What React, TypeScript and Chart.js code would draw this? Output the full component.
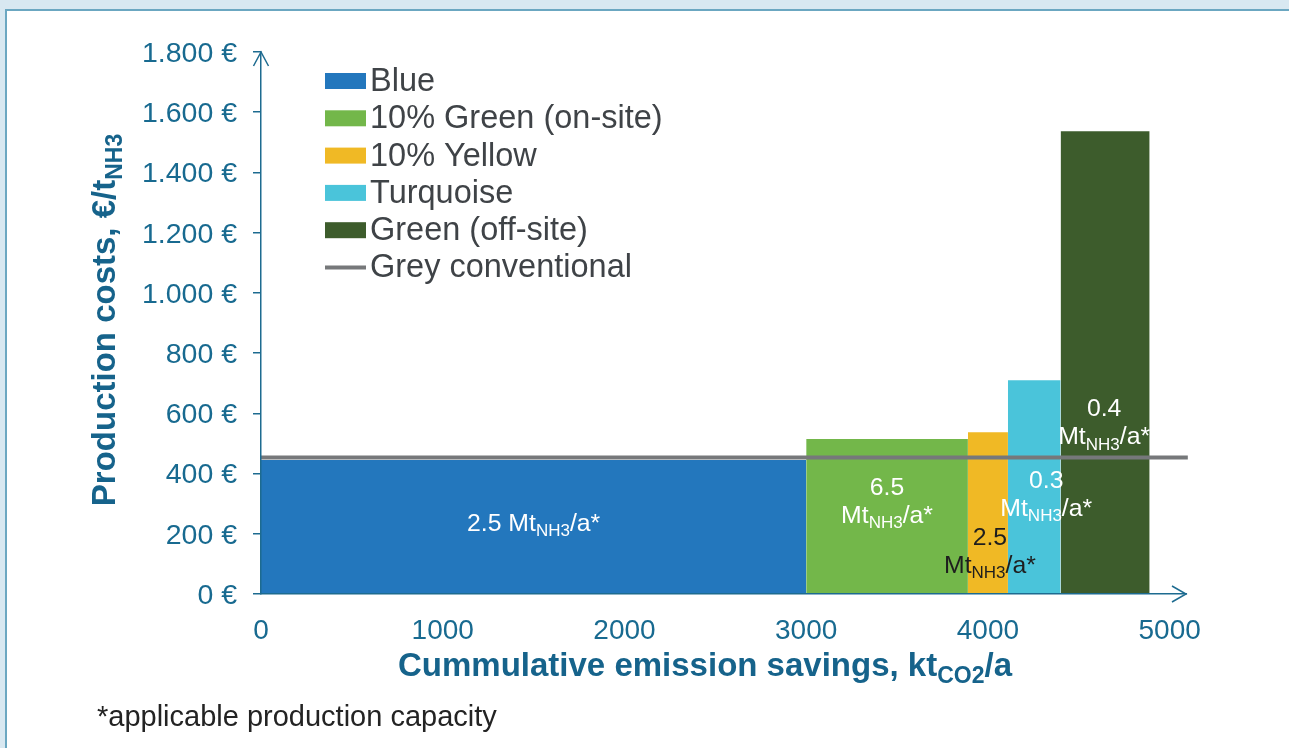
import { useEffect, useRef } from "react";
import { Chart, registerables } from "chart.js";

Chart.register(...registerables);

// Production pathways, in cost-curve order
const categories = ["Blue", "10% Green (on-site)", "10% Yellow", "Turquoise", "Green (off-site)"];
// Cumulative emission savings (kt CO2/a) at the block edges
const savingsEdges = [0, 3000, 3890, 4110, 4400, 4890];
// Production costs (€/t NH3) per pathway
const costs = [445, 515, 537, 710, 1537];
// Applicable production capacity (Mt NH3/a) per pathway
const capacities = ["2.5", "6.5", "2.5", "0.3", "0.4"];
// Reference line for conventional grey ammonia
const greyName = "Grey conventional";
const greyCost = 453;
const greySpan = [0, 5100];
// Axis ticks
const xTickValues = [0, 1000, 2000, 3000, 4000, 5000];
const yTickValues = [0, 200, 400, 600, 800, 1000, 1200, 1400, 1600, 1800];

// Styling
const FONT = "'Liberation Sans', Arial, sans-serif";
const AXIS = "#1d6b90";
const TICK_TEXT = "#186a90";
const TITLE = "#16638b";
const LEGEND_TEXT = "#3f4347";
const fills = ["#2377bd", "#73b74a", "#f0b925", "#4ac4da", "#3d5c2c"];
const greyColor = "#76787a";
const labelColors = ["#ffffff", "#ffffff", "#1e1e1e", "#ffffff", "#ffffff"];
// Label layout: vertical anchor (cost units), horizontal nudge (px), single line or not
const labelLayout = [
  { y: 239, dx: 0, oneLine: true },
  { y: 359, dx: 0, oneLine: false },
  { y: 193, dx: 2, oneLine: false },
  { y: 382, dx: 12, oneLine: false },
  { y: 620, dx: -1, oneLine: false },
];

type Part = { t: string; sub?: boolean };

function drawRich(
  ctx: CanvasRenderingContext2D,
  parts: Part[],
  x: number,
  y: number,
  size: number,
  weight: string,
  align: "left" | "center"
) {
  const subSize = Math.round(size * 0.7);
  const fontFor = (p: Part) => `${weight} ${p.sub ? subSize : size}px ${FONT}`;
  let total = 0;
  const widths = parts.map((p) => {
    ctx.font = fontFor(p);
    const w = ctx.measureText(p.t).width;
    total += w;
    return w;
  });
  let cx = align === "center" ? x - total / 2 : x;
  ctx.textAlign = "left";
  ctx.textBaseline = "alphabetic";
  parts.forEach((p, i) => {
    ctx.font = fontFor(p);
    ctx.fillText(p.t, cx, y + (p.sub ? size * 0.22 : 0));
    cx += widths[i];
  });
}

function formatEuro(v: number): string {
  const s = v >= 1000 ? `${Math.floor(v / 1000)}.${String(v % 1000).padStart(3, "0")}` : String(v);
  return `${s} €`;
}

const decorations = {
  id: "decorations",
  afterDraw(chart: any) {
    const ctx: CanvasRenderingContext2D = chart.ctx;
    const xs = chart.scales.x;
    const ys = chart.scales.y;
    const area = chart.chartArea;
    ctx.save();

    // axis arrow heads
    ctx.strokeStyle = AXIS;
    ctx.lineWidth = 1.5;
    ctx.beginPath();
    ctx.moveTo(area.left - 7.5, area.top + 14);
    ctx.lineTo(area.left, area.top);
    ctx.lineTo(area.left + 7.5, area.top + 14);
    ctx.stroke();
    ctx.beginPath();
    ctx.moveTo(area.right - 14, area.bottom - 8);
    ctx.lineTo(area.right, area.bottom);
    ctx.lineTo(area.right - 14, area.bottom + 8);
    ctx.stroke();

    // capacity labels inside the blocks
    const labelSize = 24.8;
    categories.forEach((_, i) => {
      const lay = labelLayout[i];
      const cx = xs.getPixelForValue((savingsEdges[i] + savingsEdges[i + 1]) / 2) + lay.dx;
      const cy = ys.getPixelForValue(lay.y);
      ctx.fillStyle = labelColors[i];
      const unit: Part[] = [{ t: "Mt" }, { t: "NH3", sub: true }, { t: "/a*" }];
      if (lay.oneLine) {
        drawRich(ctx, [{ t: capacities[i] + " Mt" }, { t: "NH3", sub: true }, { t: "/a*" }], cx, cy + 9, labelSize, "normal", "center");
      } else {
        drawRich(ctx, [{ t: capacities[i] }], cx, cy + 9, labelSize, "normal", "center");
        drawRich(ctx, unit, cx, cy + 37, labelSize, "normal", "center");
      }
    });

    // legend
    const items = chart.data.datasets;
    const lx = 325;
    let ly = 81;
    items.forEach((ds: any) => {
      if (ds.isLine) {
        ctx.strokeStyle = ds.borderColor;
        ctx.lineWidth = 4;
        ctx.beginPath();
        ctx.moveTo(lx, ly);
        ctx.lineTo(lx + 41, ly);
        ctx.stroke();
      } else {
        ctx.fillStyle = ds.backgroundColor;
        ctx.fillRect(lx, ly - 8, 41, 16);
      }
      ctx.fillStyle = LEGEND_TEXT;
      ctx.font = `32.5px ${FONT}`;
      ctx.textAlign = "left";
      ctx.textBaseline = "middle";
      ctx.fillText(ds.label, lx + 45, ly + 1);
      ly += 37.3;
    });

    // axis titles
    ctx.fillStyle = TITLE;
    drawRich(
      ctx,
      [{ t: "Cummulative emission savings, kt" }, { t: "CO2", sub: true }, { t: "/a" }],
      705,
      676,
      33,
      "bold",
      "center"
    );
    ctx.save();
    ctx.translate(115, 320);
    ctx.rotate(-Math.PI / 2);
    drawRich(ctx, [{ t: "Production costs, €/t" }, { t: "NH3", sub: true }], 0, 0, 33, "bold", "center");
    ctx.restore();

    // footnote
    ctx.fillStyle = "#232323";
    ctx.font = `29px ${FONT}`;
    ctx.textAlign = "left";
    ctx.textBaseline = "alphabetic";
    ctx.fillText("*applicable production capacity", 97, 726);

    ctx.restore();
  },
};

export default function App() {
  const canvasRef = useRef<HTMLCanvasElement | null>(null);

  useEffect(() => {
    const canvas = canvasRef.current;
    if (!canvas) return;
    Chart.defaults.font.family = FONT;

    const blocks = categories.map((name, i) => ({
      label: name,
      data: [
        { x: savingsEdges[i], y: 0 },
        { x: savingsEdges[i], y: costs[i] },
        { x: savingsEdges[i + 1], y: costs[i] },
        { x: savingsEdges[i + 1], y: 0 },
      ],
      backgroundColor: fills[i],
      borderColor: "rgba(0,0,0,0)",
      borderWidth: 0,
      pointRadius: 0,
      tension: 0,
      fill: "origin",
      order: 2,
    }));

    const grey = {
      label: greyName,
      isLine: true,
      data: [
        { x: greySpan[0], y: greyCost },
        { x: greySpan[1], y: greyCost },
      ],
      borderColor: greyColor,
      backgroundColor: greyColor,
      borderWidth: 4,
      pointRadius: 0,
      fill: false,
      clip: false,
      order: 0,
    };

    const chart = new Chart(canvas, {
      type: "line",
      data: { datasets: [...blocks, grey] as any },
      options: {
        animation: false,
        responsive: false,
        events: [],
        layout: { padding: { left: 0, top: 52, right: 103, bottom: 0 } },
        plugins: { legend: { display: false }, tooltip: { enabled: false } },
        scales: {
          x: {
            type: "linear",
            min: 0,
            max: 5090,
            afterBuildTicks: (s: any) => {
              s.ticks = xTickValues.map((v) => ({ value: v }));
            },
            afterFit: (s: any) => {
              s.height = 154;
            },
            ticks: {
              color: TICK_TEXT,
              font: { size: 28 },
              padding: 20,
              maxRotation: 0,
              autoSkip: false,
              callback: (v: any) => String(v),
            },
            grid: { drawOnChartArea: false, drawTicks: false },
            border: { color: AXIS, width: 1.5, z: 1 },
          },
          y: {
            type: "linear",
            min: 0,
            max: 1800,
            afterBuildTicks: (s: any) => {
              s.ticks = yTickValues.map((v) => ({ value: v }));
            },
            afterFit: (s: any) => {
              s.width = 261;
            },
            ticks: {
              color: TICK_TEXT,
              font: { size: 28.5 },
              padding: 16,
              labelOffset: 2,
              autoSkip: false,
              callback: (v: any) => formatEuro(Number(v)),
            },
            grid: { drawOnChartArea: false, drawTicks: true, tickLength: 8, color: AXIS, lineWidth: 1.5 },
            border: { color: AXIS, width: 1.5, z: 1 },
          },
        },
      } as any,
      plugins: [decorations],
    });

    return () => chart.destroy();
  }, []);

  return (
    <div style={{ position: "absolute", left: 0, top: 0, width: 1289, height: 748, overflow: "hidden", background: "#d8e8f1" }}>
      <div
        style={{
          position: "absolute",
          left: 5,
          top: 9,
          width: 1320,
          height: 780,
          background: "#ffffff",
          borderTop: "2px solid #6ba7c1",
          borderLeft: "2px solid #6ba7c1",
        }}
      />
      <canvas
        ref={canvasRef}
        width={1289}
        height={748}
        style={{ position: "absolute", left: 0, top: 0, width: 1289, height: 748 }}
      />
    </div>
  );
}
